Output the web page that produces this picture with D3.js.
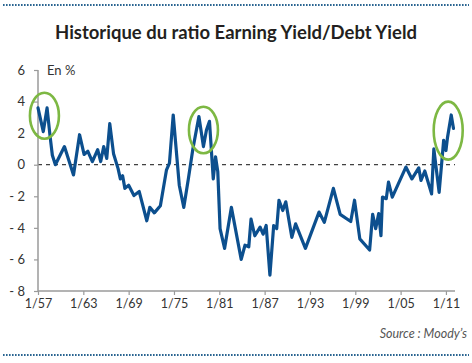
<!DOCTYPE html>
<html><head><meta charset="utf-8">
<script src="https://cdn.jsdelivr.net/npm/d3@7"></script>
<style>body{margin:0;background:#fff}svg{display:block}</style>
</head><body>
<svg id="c" width="472" height="363"></svg>
<script>
const title = "Historique du ratio Earning Yield/Debt Yield";
const unitLabel = "En %";
const sourceLabel = "Source : Moody’s";
const dates = [1957.0,1957.7,1958.2,1958.6,1958.9,1959.3,1960.5,1961.7,1962.5,1963.1,1963.6,1964.2,1964.9,1965.3,1965.7,1966.1,1966.5,1967.0,1967.6,1967.9,1968.2,1968.5,1969.0,1969.7,1970.4,1971.4,1971.8,1972.4,1973.2,1974.0,1974.4,1974.9,1975.7,1976.3,1976.9,1977.5,1978.3,1978.9,1979.3,1979.7,1980.2,1980.5,1980.8,1981.1,1981.7,1982.6,1983.9,1984.4,1984.9,1985.2,1985.7,1986.4,1986.8,1987.2,1987.7,1988.2,1988.6,1988.9,1989.4,1989.8,1990.6,1991.1,1992.4,1994.2,1994.9,1996.1,1997.0,1998.4,1998.9,1999.6,2000.9,2001.3,2001.7,2002.1,2002.4,2002.6,2003.1,2003.4,2003.9,2005.7,2006.5,2007.4,2007.7,2008.2,2009.1,2009.4,2010.1,2010.7,2011.0,2011.2,2011.7,2012.0];
const values = [3.6,2.1,3.6,1.8,0.6,0.0,1.15,-0.65,1.9,0.65,0.85,0.2,0.95,0.2,1.15,0.4,2.6,0.7,-0.25,-0.9,-0.7,-1.5,-1.3,-1.95,-1.7,-3.55,-2.7,-3.05,-2.6,-0.35,0.1,3.15,-1.3,-2.7,-0.9,1.0,3.05,1.15,2.2,2.75,-0.9,0.5,-0.45,-4.05,-5.3,-2.7,-6.0,-5.1,-5.2,-3.45,-4.5,-3.95,-4.4,-3.85,-7.0,-3.85,-4.05,-2.25,-2.9,-2.35,-4.6,-3.75,-5.3,-3.0,-3.65,-1.5,-3.15,-3.6,-2.25,-4.7,-5.4,-3.15,-4.05,-3.1,-4.5,-2.05,-2.15,-1.1,-2.05,-0.15,-0.9,-0.2,-1.0,-0.4,-1.85,1.0,-1.75,1.55,0.9,1.7,3.15,2.3];
const xTickYears = [1957,1963,1969,1975,1981,1987,1993,1999,2005,2011];
const xTickLabels = ["1/57","1/63","1/69","1/75","1/81","1/87","1/93","1/99","1/05","1/11"];
const yTicks = [6,4,2,0,-2,-4,-6,-8];
// highlighted periods (year center, value center)
const highlights = [[1957.85,3.1],[1978.9,2.2],[2011.3,2.16]];

const svg = d3.select("#c");
const font = "Lato, 'Open Sans', sans-serif";
const x = d3.scaleLinear().domain([1957, 2012.2]).range([38, 455]);
const y = d3.scaleLinear().domain([-8, 6]).range([291, 70]);

// dotted frame lines
[5, 355].forEach(yy => svg.append("line").attr("x1",3).attr("x2",469).attr("y1",yy).attr("y2",yy)
  .attr("stroke","#2a6591").attr("stroke-width",2).attr("stroke-dasharray","1.6,1.4"));

// title
const t = svg.append("text").attr("x",236).attr("y",39).attr("text-anchor","middle")
  .attr("font-family",font).attr("font-weight","bold").attr("font-size",16).attr("fill","#231f20").text(title);
const tw = t.node().getComputedTextLength();
t.attr("font-size", 16*362/tw);

// zero line
svg.append("line").attr("x1",x(1957)).attr("x2",455).attr("y1",y(0)).attr("y2",y(0))
  .attr("stroke","#111").attr("stroke-width",1).attr("stroke-dasharray","4,4");

// axes
const yAxis = d3.axisLeft(y).tickValues(yTicks).tickSize(4).tickPadding(9)
  .tickFormat(d => d < 0 ? "- " + (-d) : String(d));
const gy = svg.append("g").attr("transform",`translate(${x(1957)},0)`).call(yAxis);
const xAxis = d3.axisBottom(x).tickValues(xTickYears).tickSize(4).tickPadding(4)
  .tickFormat((d,i) => xTickLabels[i]);
const gx = svg.append("g").attr("transform",`translate(0,${y(-8)})`).call(xAxis);
[gx, gy].forEach(g => {
  g.select(".domain").attr("stroke","#9a9a9a").attr("stroke-width",1.5);
  g.selectAll(".tick line").attr("stroke","#9a9a9a").attr("stroke-width",1.2);
  g.selectAll(".tick text").attr("font-family",font).attr("font-size",13).attr("fill","#333");
});
gx.select(".domain").attr("d", `M${x(1957)},0H455`);
gy.select(".domain").attr("d", `M0,${y(6)}V${y(-8)}`);
gx.selectAll(".tick text").attr("font-size",12.5);

svg.append("text").attr("x",47).attr("y",75).attr("font-family",font).attr("font-size",13)
  .attr("fill","#333").text(unitLabel);

// series line
const pts = dates.map((d,i)=>[d, values[i]]);
svg.append("path").datum(pts).attr("fill","none").attr("stroke","#0c4f8e").attr("stroke-width",3.2)
  .attr("stroke-linejoin","round").attr("stroke-linecap","round")
  .attr("d", d3.line().x(d=>x(d[0])).y(d=>y(d[1])));

// highlight ellipses
const rys = [23, 23.3, 29];
highlights.forEach((h,i) => svg.append("ellipse").attr("cx",x(h[0])).attr("cy",y(h[1]))
  .attr("rx",14.5).attr("ry",rys[i]).attr("fill","none").attr("stroke","#7db843").attr("stroke-width",2.6));

// source
svg.append("text").attr("x",467).attr("y",338).attr("text-anchor","end").attr("font-family",font)
  .attr("font-style","italic").attr("font-size",12.5).attr("fill","#555").text(sourceLabel);
</script>
</body></html>
